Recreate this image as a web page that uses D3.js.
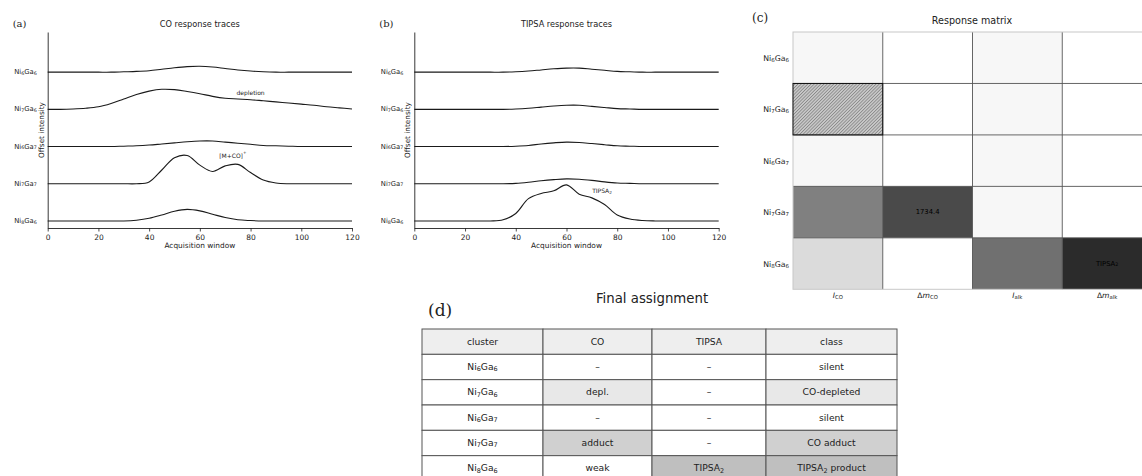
<!DOCTYPE html>
<html>
<head>
<meta charset="utf-8">
<script src="https://cdn.jsdelivr.net/npm/d3@7"></script>
<style>
body { margin: 0; background: #fff; }
svg { display: block; font-family: "DejaVu Sans", sans-serif; }
</style>
</head>
<body>
<svg></svg>
<script>
// ---- data ----
var clusters = ["Ni_{6}Ga_{6}", "Ni_{7}Ga_{6}", "Ni_{6}Ga_{7}", "Ni_{7}Ga_{7}", "Ni_{8}Ga_{6}"];
var windowX = [0,5,10,15,20,25,30,35,40,45,50,55,60,65,70,75,80,85,90,95,100,105,110,115,120];
var xTicks = [0, 20, 40, 60, 80, 100, 120];

var coTraces = [
    [0,0,0,0,0,0,0.01,0.02,0.04,0.08,0.12,0.15,0.16,0.14,0.10,0.06,0.03,0.01,0,0,0,0,0,0,0],
    [0,0,0.01,0.03,0.07,0.16,0.28,0.40,0.49,0.54,0.53,0.48,0.42,0.35,0.30,0.28,0.26,0.23,0.20,0.17,0.14,0.11,0.07,0.04,0.01],
    [0,0,0,0,0,0,0.01,0.02,0.04,0.07,0.10,0.13,0.15,0.15,0.12,0.09,0.06,0.03,0.02,0.01,0,0,0,0,0],
    [0,0,0,0,0,0,0,0,0.05,0.37,0.70,0.76,0.50,0.33,0.48,0.52,0.30,0.10,0.02,0,0,0,0,0,0],
    [0,0,0,0,0,0,0,0.02,0.07,0.16,0.26,0.31,0.27,0.18,0.09,0.03,0.01,0,0,0,0,0,0,0,0]
];
var tipsaTraces = [
    [0,0,0,0,0,0,0,0,0.01,0.03,0.06,0.09,0.11,0.11,0.08,0.05,0.02,0.01,0,0,0,0,0,0,0],
    [0,0,0,0,0,0,0,0,0.01,0.03,0.06,0.09,0.11,0.11,0.08,0.05,0.02,0.01,0,0,0,0,0,0,0],
    [0,0,0,0,0,0,0,0,0.01,0.03,0.07,0.10,0.12,0.11,0.08,0.05,0.02,0.01,0,0,0,0,0,0,0],
    [0,0,0,0,0,0,0,0,0.01,0.04,0.08,0.11,0.13,0.12,0.09,0.05,0.02,0.01,0,0,0,0,0,0,0],
    [0,0,0,0,0,0,0,0.03,0.20,0.60,0.74,0.81,0.97,0.72,0.62,0.44,0.16,0.05,0.01,0,0,0,0,0,0]
];
var coNotes = [{row: 1, x: 80, y: 0.45, text: "depletion"}, {row: 3, x: 73, y: 0.75, text: "[M+CO]^{+}"}];
var tipsaNotes = [{row: 4, x: 74, y: 0.80, text: "TIPSA_{2}"}];

var matrixCols = ["*I*_{CO}", "Δ*m*_{CO}", "*I*_{alk}", "Δ*m*_{alk}"];
var matrixVals = [
    [0.03, 0, 0.03, 0],
    [0.22, 0, 0.03, 0],
    [0.03, 0, 0.03, 0],
    [0.50, 0.71, 0.03, 0],
    [0.14, 0, 0.56, 0.83]
];
var matrixHatched = [[1, 0]];
var matrixNotes = [{r: 3, c: 1, text: "1734.4"}, {r: 4, c: 3, text: "TIPSA_{2}"}];

var tableHead = ["cluster", "CO", "TIPSA", "class"];
var tableCO = ["–", "depl.", "–", "adduct", "weak"];
var tableTIPSA = ["–", "–", "–", "–", "TIPSA_{2}"];
var tableClass = ["silent", "CO-depleted", "silent", "CO adduct", "TIPSA_{2} product"];

// ---- helpers ----
var svg = d3.select("svg").attr("width", 1142).attr("height", 476);

// tiny markup: _{sub}, ^{sup}, *italic*
function mtext(sel, str, fs) {
    var parts = str.split(/(_\{[^}]*\}|\^\{[^}]*\}|\*[^*]*\*)/).filter(function(s) { return s.length; });
    var shift = 0;
    parts.forEach(function(p) {
        var t = sel.append("tspan");
        var want = 0;
        if (p[0] === "_") { t.text(p.slice(2, -1)).attr("font-size", fs * 0.7); want = fs * 0.25; }
        else if (p[0] === "^") { t.text(p.slice(2, -1)).attr("font-size", fs * 0.7); want = -fs * 0.4; }
        else if (p[0] === "*") { t.text(p.slice(1, -1)).attr("font-style", "italic"); }
        else { t.text(p); }
        if (want !== shift) { t.attr("dy", want - shift); shift = want; }
    });
    return sel;
}

function label(x, y, str, fs, anchor, extra) {
    var t = svg.append("text").attr("x", x).attr("y", y)
        .attr("font-size", fs).attr("text-anchor", anchor || "middle")
        .attr("dominant-baseline", "middle").attr("fill", "#222");
    if (extra) extra(t);
    return mtext(t, str, fs);
}

// ---- trace panels ----
function tracePanel(left, right, traces, notes, title, tag) {
    var x = d3.scaleLinear().domain([0, 120]).range([left, right]);
    var y = d3.scaleLinear().domain([-0.19, 5.08]).range([228, 32]);
    var g = svg.append("g");

    g.append("g").attr("transform", "translate(0,228)")
        .call(d3.axisBottom(x).tickValues(xTicks).tickSize(3.5).tickSizeOuter(0))
        .call(function(a) {
            a.select(".domain").attr("stroke", "#222").attr("stroke-width", 0.9);
            a.selectAll(".tick line").attr("stroke", "#222").attr("stroke-width", 0.8);
            a.selectAll(".tick text").attr("font-size", 7.5).attr("fill", "#222")
                .attr("font-family", "DejaVu Sans");
        });
    g.append("g").attr("transform", "translate(" + left + ",0)")
        .call(d3.axisLeft(y).tickValues([]).tickSizeOuter(0))
        .call(function(a) { a.select(".domain").attr("stroke", "#222").attr("stroke-width", 0.9); });

    var line = d3.line()
        .x(function(d, i) { return x(windowX[i]); })
        .y(function(d) { return y(d); })
        .curve(d3.curveCatmullRom);

    traces.forEach(function(tr, i) {
        var off = clusters.length - 1 - i;
        g.append("path")
            .attr("d", line(tr.map(function(v) { return v + off; })))
            .attr("fill", "none").attr("stroke", "#1a1a1a").attr("stroke-width", 1.1);
        label(left - 11, y(off), clusters[i], 6.8, "end");
    });

    notes.forEach(function(n) {
        var off = clusters.length - 1 - n.row;
        label(x(n.x), y(off + n.y), n.text, 6, "middle");
    });

    label((left + right) / 2, 24, title, 8.2, "middle");
    label(left - 35, 24, tag, 10, "start", function(t) { t.attr("font-family", "DejaVu Serif"); });
    label((left + right) / 2, 246, "Acquisition window", 7.4, "middle");
    svg.append("text")
        .attr("transform", "translate(" + (left - 6) + ",130) rotate(-90)")
        .attr("text-anchor", "middle").attr("dominant-baseline", "middle")
        .attr("font-size", 7.3).attr("fill", "#222").text("Offset intensity");
}

tracePanel(47.7, 352, coTraces, coNotes, "CO response traces", "(a)");
tracePanel(414.3, 718.7, tipsaTraces, tipsaNotes, "TIPSA response traces", "(b)");

// ---- response matrix ----
var mx = d3.scaleBand().domain(d3.range(matrixCols.length)).range([793, 1152]);
var my = d3.scaleBand().domain(d3.range(clusters.length)).range([32, 289.3]);
var grey = d3.scaleLinear().domain([0, 1]).range(["#ffffff", "#000000"]);

var defs = svg.append("defs");
defs.append("pattern").attr("id", "hatch").attr("patternUnits", "userSpaceOnUse")
    .attr("width", 2.3).attr("height", 2.3).attr("patternTransform", "rotate(45)")
    .append("line").attr("x1", 0).attr("y1", 0).attr("x2", 0).attr("y2", 2.3)
    .attr("stroke", "#222").attr("stroke-width", 0.6);

var cells = [];
matrixVals.forEach(function(row, r) { row.forEach(function(v, c) { cells.push({r: r, c: c, v: v}); }); });

svg.append("g").selectAll("rect").data(cells).join("rect")
    .attr("x", function(d) { return mx(d.c); })
    .attr("y", function(d) { return my(d.r); })
    .attr("width", mx.bandwidth()).attr("height", my.bandwidth())
    .attr("fill", function(d) { return grey(d.v); });

// grid lines inside
var grid = svg.append("g").attr("stroke", "#555").attr("stroke-width", 0.9);
d3.range(1, matrixCols.length).forEach(function(c) {
    grid.append("line").attr("x1", mx(c)).attr("x2", mx(c)).attr("y1", 32).attr("y2", 289.3);
});
d3.range(1, clusters.length).forEach(function(r) {
    grid.append("line").attr("x1", 793).attr("x2", 1152).attr("y1", my(r)).attr("y2", my(r));
});
svg.append("rect").attr("x", 793).attr("y", 32).attr("width", 359).attr("height", 257.3)
    .attr("fill", "none").attr("stroke", "#c8c8c8").attr("stroke-width", 1);

matrixHatched.forEach(function(h) {
    svg.append("rect").attr("x", mx(h[1])).attr("y", my(h[0]))
        .attr("width", mx.bandwidth()).attr("height", my.bandwidth())
        .attr("fill", "url(#hatch)").attr("stroke", "#111").attr("stroke-width", 1);
});

matrixNotes.forEach(function(n) {
    label(mx(n.c) + mx.bandwidth() / 2, my(n.r) + my.bandwidth() / 2, n.text, 6.8, "middle",
        function(t) { t.attr("fill", "#000"); });
});
clusters.forEach(function(cl, r) {
    label(789, my(r) + my.bandwidth() / 2 + 1, cl, 7.8, "end");
});
matrixCols.forEach(function(cn, c) {
    label(mx(c) + mx.bandwidth() / 2, 296, cn, 7.6, "middle");
});
label(972, 21, "Response matrix", 9.6, "middle");
label(752, 18, "(c)", 12, "start", function(t) { t.attr("font-family", "DejaVu Serif"); });

// ---- final assignment table ----
var colFrac = [0, 121, 230, 344, 475];
var tx = d3.scaleLinear().domain([0, 475]).range([422, 897]);
var ty = d3.scaleBand().domain(d3.range(clusters.length + 1)).range([329, 481]);
var shade = {"depl.": "#e8e8e8", "CO-depleted": "#e8e8e8", "adduct": "#d0d0d0", "CO adduct": "#d0d0d0",
             "TIPSA_{2}": "#bfbfbf", "TIPSA_{2} product": "#bfbfbf"};

var rows = [tableHead].concat(clusters.map(function(cl, i) {
    return [cl, tableCO[i], tableTIPSA[i], tableClass[i]];
}));

rows.forEach(function(row, r) {
    row.forEach(function(txt, c) {
        var x0 = tx(colFrac[c]), x1 = tx(colFrac[c + 1]);
        svg.append("rect").attr("x", x0).attr("y", ty(r))
            .attr("width", x1 - x0).attr("height", ty.bandwidth())
            .attr("fill", r === 0 ? "#eeeeee" : (shade[txt] || "#ffffff"))
            .attr("stroke", "#555").attr("stroke-width", 1);
        label((x0 + x1) / 2, ty(r) + ty.bandwidth() / 2, txt, 9.2, "middle");
    });
});

label(652, 299, "Final assignment", 13.3, "middle");
label(428, 311, "(d)", 17, "start", function(t) { t.attr("font-family", "DejaVu Serif"); });
</script>
</body>
</html>
